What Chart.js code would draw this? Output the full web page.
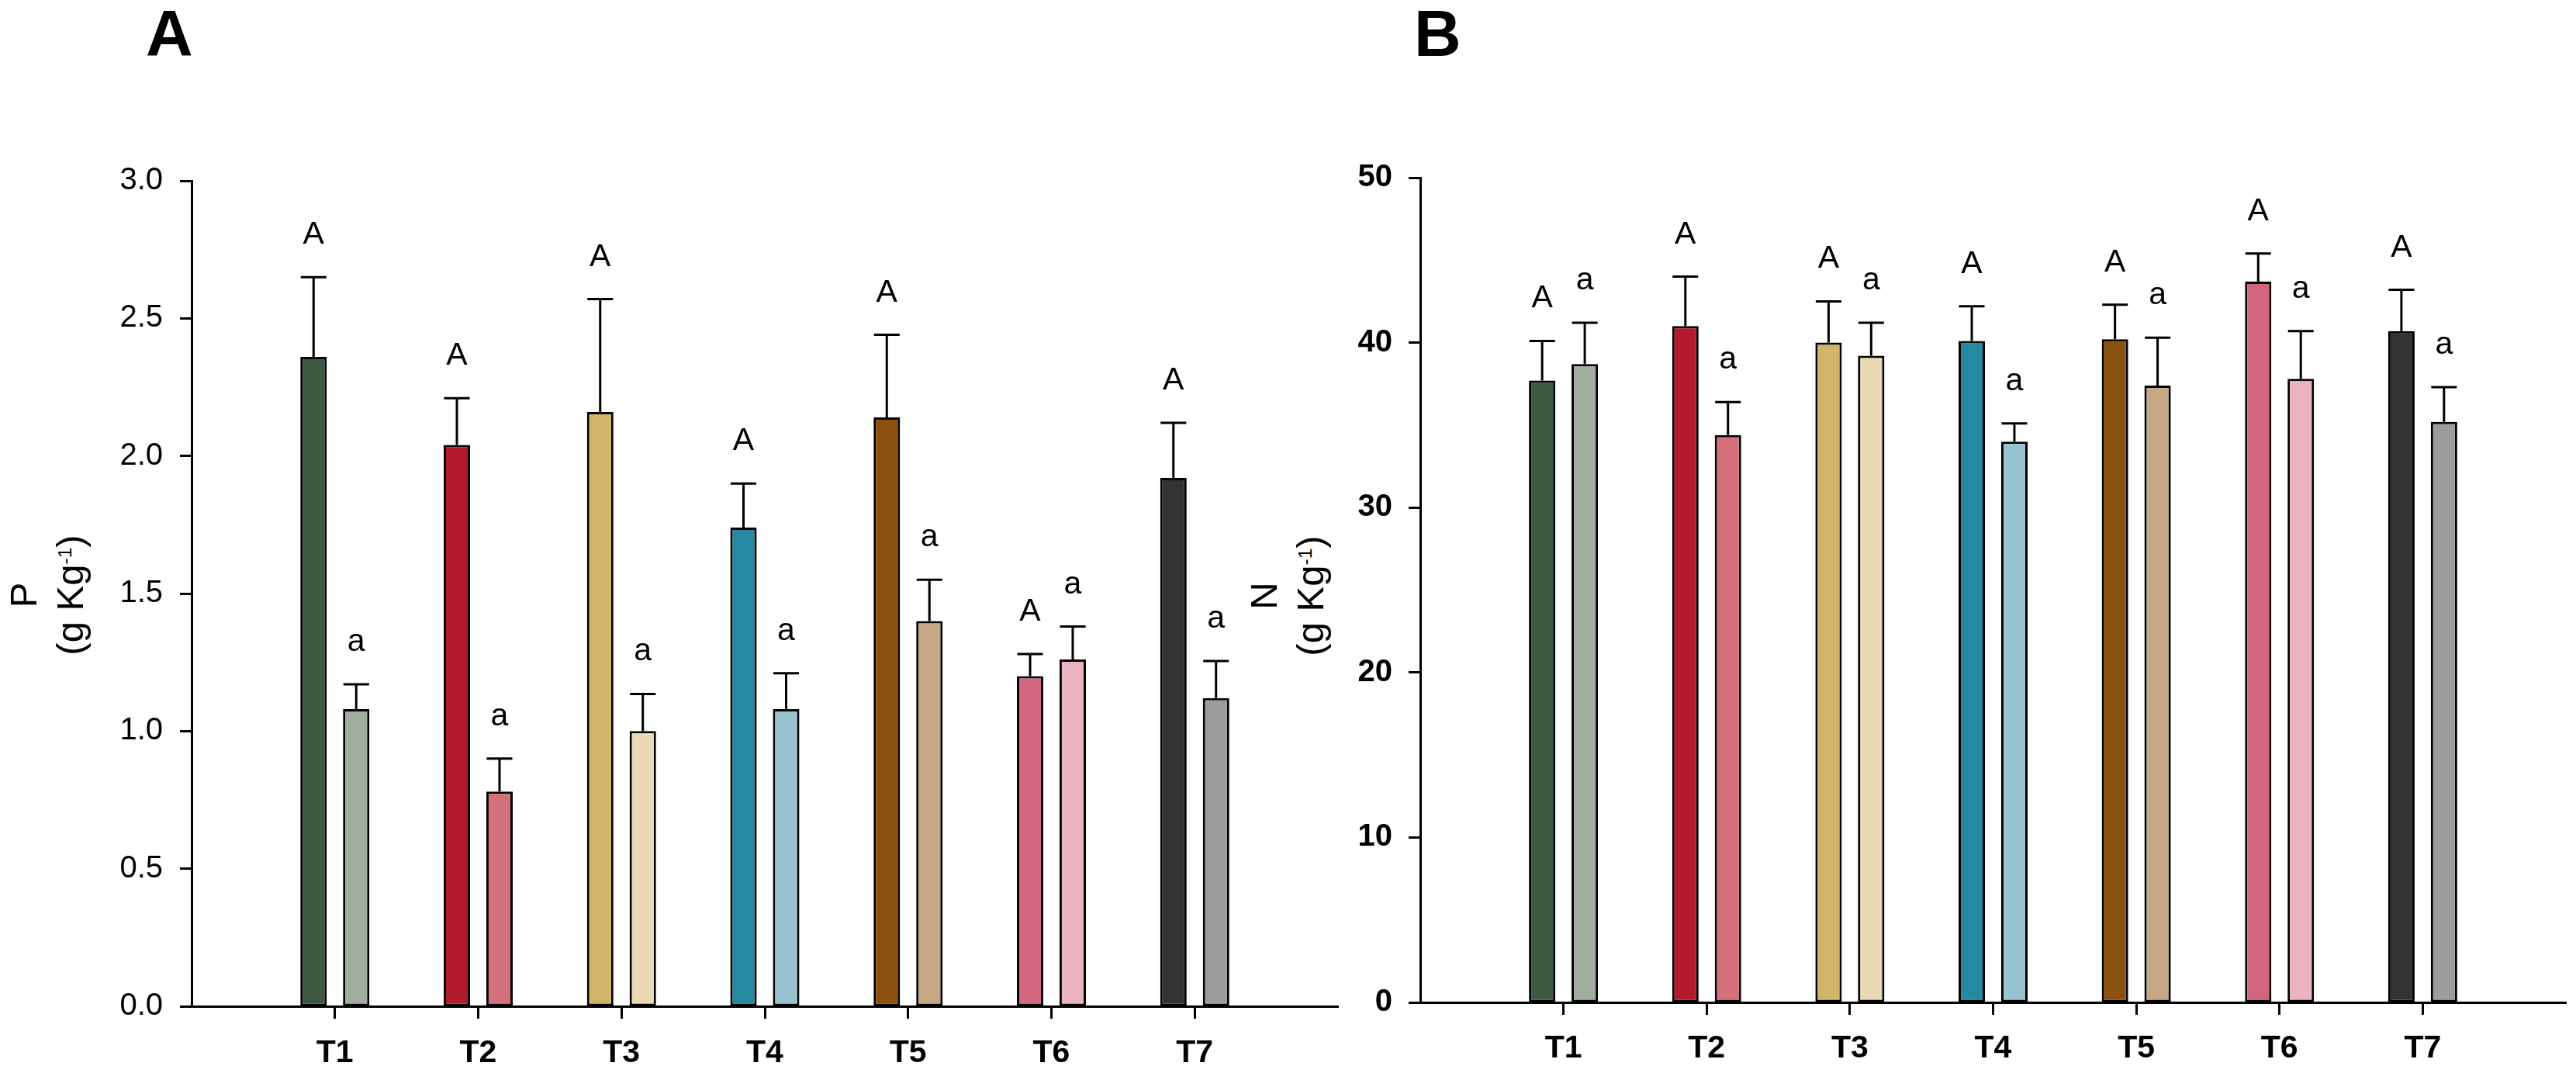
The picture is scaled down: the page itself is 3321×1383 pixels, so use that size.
<!DOCTYPE html>
<html>
<head>
<meta charset="utf-8">
<title>P and N by treatment</title>
<script src="https://cdn.jsdelivr.net/npm/chart.js@4.4.1/dist/chart.umd.min.js"></script>
<style>
  body {
    margin: 0;
    background: #fff;
    width: 3321px;
    height: 1383px;
    overflow: hidden;
    position: relative;
    font-family: "Liberation Sans", Arial, sans-serif;
    color: #000;
  }
  canvas { position: absolute; top: 0; }
  #chartA { left: 0; }
  #chartB { left: 1740px; }
  .panel {
    position: absolute;
    top: 1px;
    font-size: 84px;
    line-height: 84px;
    font-weight: bold;
  }
  .ytitle {
    position: absolute;
    font-size: 49px;
    line-height: 60px;
    text-align: center;
    white-space: nowrap;
    transform: translate(-50%, -50%) rotate(-90deg);
  }
  .ytitle sup {
    font-size: 0.5em;
    line-height: 0;
    vertical-align: 15px;
  }
</style>
</head>
<body>
<div class="panel" style="left:188px">A</div>
<div class="panel" style="left:1823px">B</div>
<div class="ytitle" style="left:60px; top:767px">P<br>(g Kg<sup>-1</sup>)</div>
<div class="ytitle" style="left:1659px; top:768px">N<br>(g Kg<sup>-1</sup>)</div>

<canvas id="chartA" width="1740" height="1383"></canvas>
<canvas id="chartB" width="1581" height="1383"></canvas>

<script>
// Treatments
const categories = ["T1", "T2", "T3", "T4", "T5", "T6", "T7"];

// Panel A - P (g Kg-1)
const pDark = [2.36, 2.04, 2.16, 1.74, 2.14, 1.20, 1.92];
const pLight = [1.08, 0.78, 1.00, 1.08, 1.40, 1.26, 1.12];
const pDarkErr = [0.29, 0.17, 0.41, 0.16, 0.30, 0.08, 0.20];
const pLightErr = [0.09, 0.12, 0.135, 0.13, 0.15, 0.12, 0.135];
const pDarkLetters = ["A", "A", "A", "A", "A", "A", "A"];
const pLightLetters = ["a", "a", "a", "a", "a", "a", "a"];
const pTicks = ["0.0", "0.5", "1.0", "1.5", "2.0", "2.5", "3.0"];

// Panel B - N (g Kg-1)
const nDark = [37.7, 41.0, 40.0, 40.1, 40.2, 43.7, 40.7];
const nLight = [38.7, 34.4, 39.2, 34.0, 37.4, 37.8, 35.2];
const nDarkErr = [2.4, 3.0, 2.5, 2.1, 2.1, 1.7, 2.5];
const nLightErr = [2.5, 2.0, 2.0, 1.1, 2.9, 2.9, 2.1];
const nDarkLetters = ["A", "A", "A", "A", "A", "A", "A"];
const nLightLetters = ["a", "a", "a", "a", "a", "a", "a"];
const nTicks = ["0", "10", "20", "30", "40", "50"];

// Bar colours per treatment
const darkColors = ["#3d5a40", "#b31a2e", "#d2b468", "#2589a2", "#8b520f", "#d4657e", "#333333"];
const lightColors = ["#a0ad9f", "#d4707a", "#e9dab4", "#98c4d2", "#c6a885", "#ebb2bf", "#9c9c9c"];

const FONT = '"Liberation Sans", Arial, sans-serif';

// Error bars (upper only) and significance letters
const errorBarPlugin = {
  id: "errorBars",
  afterDatasetsDraw(chart, args, opts) {
    const { ctx } = chart;
    const y = chart.scales.y;
    ctx.save();
    ctx.strokeStyle = "#000";
    ctx.fillStyle = "#000";
    ctx.lineWidth = opts.lineWidth;
    ctx.font = opts.font;
    ctx.textAlign = "center";
    ctx.textBaseline = "alphabetic";
    chart.data.datasets.forEach((ds, di) => {
      const meta = chart.getDatasetMeta(di);
      meta.data.forEach((bar, i) => {
        const top = y.getPixelForValue(ds.data[i].y + opts.errors[di][i]);
        const half = bar.width / 2 - 0.5;
        ctx.beginPath();
        ctx.moveTo(bar.x, bar.y);
        ctx.lineTo(bar.x, top);
        ctx.moveTo(bar.x - half, top);
        ctx.lineTo(bar.x + half, top);
        ctx.stroke();
        ctx.fillText(opts.letters[di][i], bar.x, top - opts.gap);
      });
    });
    ctx.restore();
  },
};

function toPoints(values) {
  return values.map((v, i) => ({ x: i + 1, y: v }));
}

function buildChart(id, cfg) {
  const barStyle = {
    borderColor: "#000",
    borderWidth: 3,
    borderSkipped: false,
    categoryPercentage: 0.595,
    barPercentage: 0.62,
  };
  return new Chart(document.getElementById(id), {
    type: "bar",
    data: {
      datasets: [
        Object.assign({ data: toPoints(cfg.dark), backgroundColor: darkColors }, barStyle),
        Object.assign({ data: toPoints(cfg.light), backgroundColor: lightColors }, barStyle),
      ],
    },
    options: {
      responsive: false,
      animation: false,
      devicePixelRatio: 1,
      layout: { padding: cfg.padding },
      plugins: {
        legend: { display: false },
        tooltip: { enabled: false },
        errorBars: {
          errors: [cfg.darkErr, cfg.lightErr],
          letters: [cfg.darkLetters, cfg.lightLetters],
          lineWidth: 3,
          gap: 43,
          font: "41px " + FONT,
        },
      },
      scales: {
        x: {
          type: "linear",
          min: 0,
          max: 8,
          offset: false,
          afterBuildTicks: (scale) => {
            scale.ticks = categories.map((c, i) => ({ value: i + 1 }));
          },
          afterFit: (scale) => {
            scale.height = cfg.xHeight;
          },
          ticks: {
            autoSkip: false,
            color: "#000",
            padding: cfg.xPad,
            font: { family: FONT, size: 41, weight: "bold" },
            callback: (v) => categories[v - 1],
          },
          grid: {
            offset: false,
            drawOnChartArea: false,
            drawTicks: true,
            tickLength: 16,
            tickWidth: 3,
            tickColor: "#000",
          },
          border: { display: true, color: "#000", width: 3 },
        },
        y: {
          min: 0,
          max: cfg.yMax,
          afterBuildTicks: (scale) => {
            scale.ticks = cfg.ticks.map((t, i) => ({ value: i * cfg.yStep }));
          },
          afterFit: (scale) => {
            scale.width = cfg.yWidth;
          },
          ticks: {
            color: "#000",
            padding: cfg.yPad,
            font: { family: FONT, size: 40, weight: cfg.yWeight },
            callback: (v, i) => cfg.ticks[i],
          },
          grid: {
            drawOnChartArea: false,
            drawTicks: true,
            tickLength: 15,
            tickWidth: 3,
            tickColor: "#000",
          },
          border: { display: true, color: "#000", width: 3 },
        },
      },
    },
    plugins: [errorBarPlugin],
  });
}

buildChart("chartA", {
  dark: pDark,
  light: pLight,
  darkErr: pDarkErr,
  lightErr: pLightErr,
  darkLetters: pDarkLetters,
  lightLetters: pLightLetters,
  ticks: pTicks,
  yMax: 3,
  yStep: 0.5,
  yWidth: 247,
  yPad: 22,
  yWeight: "normal",
  xHeight: 86,
  xPad: 20,
  padding: { top: 233, right: 15, bottom: 0, left: 0 },
});

buildChart("chartB", {
  dark: nDark,
  light: nLight,
  darkErr: nDarkErr,
  lightErr: nLightErr,
  darkLetters: nDarkLetters,
  lightLetters: nLightLetters,
  ticks: nTicks,
  yMax: 50,
  yStep: 10,
  yWidth: 91,
  yPad: 21,
  yWeight: "bold",
  xHeight: 91,
  xPad: 19,
  padding: { top: 229, right: 13, bottom: 0, left: 0 },
});
</script>
</body>
</html>
